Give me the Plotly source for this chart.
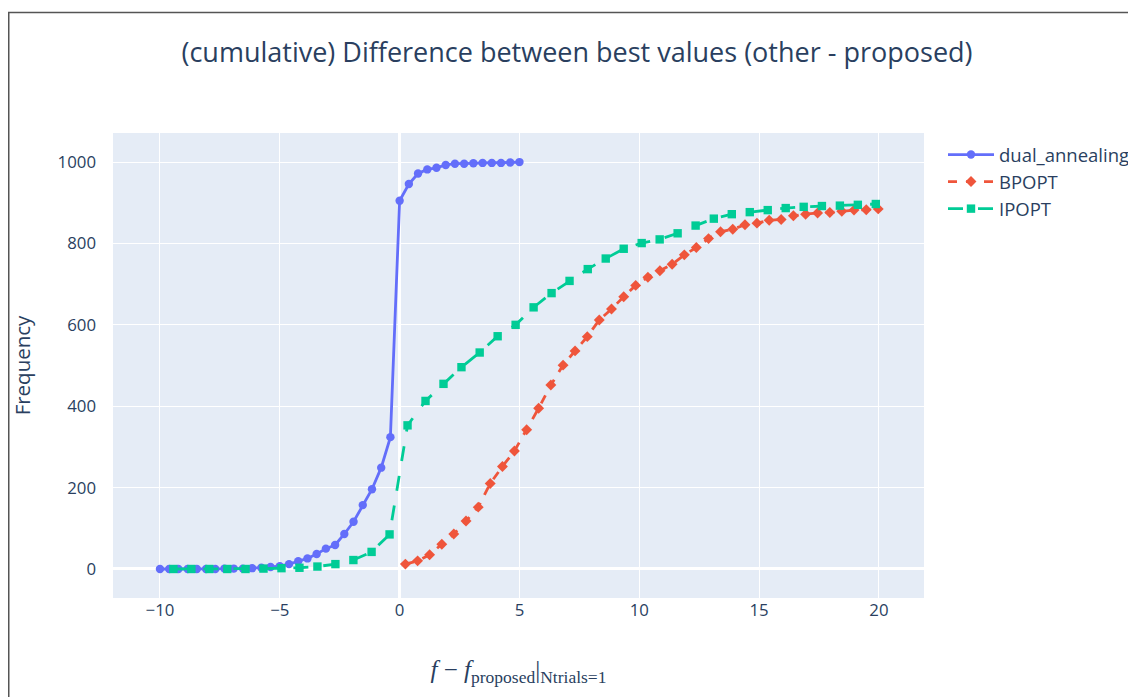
import plotly.graph_objects as go

# ---- data ----
dual_x = [-10.0, -9.615, -9.231, -8.846, -8.462, -8.077, -7.692, -7.308, -6.923, -6.538,
          -6.154, -5.769, -5.385, -5.0, -4.615, -4.231, -3.846, -3.462, -3.077, -2.692,
          -2.308, -1.923, -1.538, -1.154, -0.769, -0.385, 0.0, 0.385, 0.769, 1.154,
          1.538, 1.923, 2.308, 2.692, 3.077, 3.462, 3.846, 4.231, 4.615, 5.0]
dual_y = [0, 0, 0, 0, 0, 0, 0, 1, 1, 1,
          2, 3, 5, 7, 12, 19, 26, 37, 50, 59,
          86, 116, 157, 196, 249, 324, 905, 946, 972, 982,
          986, 993, 996, 996, 997, 998, 998, 998, 999, 1000]

bpopt_x = [0.24, 0.75, 1.25, 1.76, 2.26, 2.77, 3.28, 3.78, 4.29, 4.79,
           5.30, 5.80, 6.31, 6.82, 7.32, 7.83, 8.33, 8.84, 9.35, 9.85,
           10.36, 10.86, 11.37, 11.88, 12.38, 12.89, 13.39, 13.90, 14.41, 14.91,
           15.42, 15.92, 16.43, 16.94, 17.44, 17.95, 18.45, 18.96, 19.47, 19.97]
bpopt_y = [12, 20, 35, 61, 86, 118, 152, 210, 252, 290,
           342, 395, 452, 501, 536, 571, 612, 639, 669, 697,
           717, 733, 749, 772, 790, 812, 829, 835, 846, 850,
           857, 859, 868, 872, 875, 876, 879, 882, 883, 885]

ipopt_x = [-9.44, -8.69, -7.94, -7.19, -6.43, -5.68, -4.93, -4.18, -3.43, -2.68,
           -1.93, -1.17, -0.42, 0.33, 1.08, 1.83, 2.58, 3.34, 4.09, 4.84,
           5.59, 6.34, 7.09, 7.85, 8.60, 9.35, 10.10, 10.85, 11.60, 12.35,
           13.11, 13.86, 14.61, 15.36, 16.11, 16.86, 17.62, 18.37, 19.12, 19.87]
ipopt_y = [0, 0, 0, 0, 0, 1, 2, 3, 6, 12,
           22, 42, 85, 353, 413, 455, 496, 532, 572, 600,
           643, 678, 708, 737, 763, 787, 801, 810, 825, 844,
           861, 872, 877, 882, 887, 890, 892, 893, 895, 897]

series_names = ["dual_annealing", "BPOPT", "IPOPT"]
title_text = "(cumulative) Difference between best values (other - proposed)"
xlabel = "<i>f</i> − <i>f</i><sub>proposed</sub>|<sub>Ntrials=1</sub>"
ylabel = "Frequency"

S = 1.4  # overall rendering scale of the reference

fig = go.Figure()
fig.add_trace(go.Scatter(x=dual_x, y=dual_y, mode="lines+markers", name=series_names[0],
                         line=dict(color="#636efa", width=2 * S),
                         marker=dict(symbol="circle", size=6 * S, color="#636efa")))
fig.add_trace(go.Scatter(x=bpopt_x, y=bpopt_y, mode="lines+markers", name=series_names[1],
                         line=dict(color="#EF553B", width=2 * S, dash="dash"),
                         marker=dict(symbol="diamond", size=6 * S, color="#EF553B")))
fig.add_trace(go.Scatter(x=ipopt_x, y=ipopt_y, mode="lines+markers", name=series_names[2],
                         line=dict(color="#00cc96", width=2 * S, dash="longdash"),
                         marker=dict(symbol="square", size=6 * S, color="#00cc96")))

# page body has an 8px margin, so the figure is 8px smaller than the window
OFF = 8
W, H = 1136 - OFF, 697 - OFF
L, T = 113 - OFF, 133 - OFF
R = W - (924 - OFF)
B = H - (598 - OFF)
pw, ph = W - L - R, H - T - B

def px2paper_x(px):
    return (px - OFF - L) / pw

def px2paper_y(py):
    return (H - B - (py - OFF)) / ph

fig.update_layout(
    template="plotly",
    width=W, height=H,
    margin=dict(l=L, r=R, t=T, b=B, pad=0, autoexpand=False),
    font=dict(family="Open Sans, Verdana, Arial, sans-serif", size=12 * S, color="#2a3f5f"),
    title=dict(text=title_text, x=(577 - OFF) / W, xanchor="center", xref="container",
               y=1 - (53 - OFF) / H, yanchor="middle", yref="container",
               font=dict(size=27)),
    plot_bgcolor="#E5ECF6",
    paper_bgcolor="white",
    legend=dict(x=px2paper_x(940 + 3), xanchor="left", y=px2paper_y(133 + 3), yanchor="top",
                font=dict(size=18.5), itemwidth=46, bgcolor="rgba(0,0,0,0)"),
    showlegend=True,
)
fig.update_xaxes(range=[-11.96, 21.88], gridcolor="white", gridwidth=1 * S,
                 zerolinecolor="white", zerolinewidth=2 * S, tickfont=dict(size=12 * S),
                 dtick=5, automargin=False,
                 title=dict(text=xlabel, standoff=40,
                            font=dict(family="Liberation Serif, DejaVu Serif, serif", size=25)))
fig.update_yaxes(range=[-71.3, 1071.5], gridcolor="white", gridwidth=1 * S,
                 zerolinecolor="white", zerolinewidth=2 * S, tickfont=dict(size=12 * S),
                 dtick=200, ticklabelstandoff=16, automargin=False,
                 title=dict(text=ylabel, standoff=27, font=dict(size=20.5)))

# frame around the figure seen in the reference
fig.add_shape(type="rect", xref="paper", yref="paper",
              x0=px2paper_x(8.75), x1=px2paper_x(1131.5),
              y0=px2paper_y(710), y1=px2paper_y(12.5),
              line=dict(color="#555555", width=1.5), fillcolor="rgba(0,0,0,0)", layer="above")

fig.write_html("out.html")
